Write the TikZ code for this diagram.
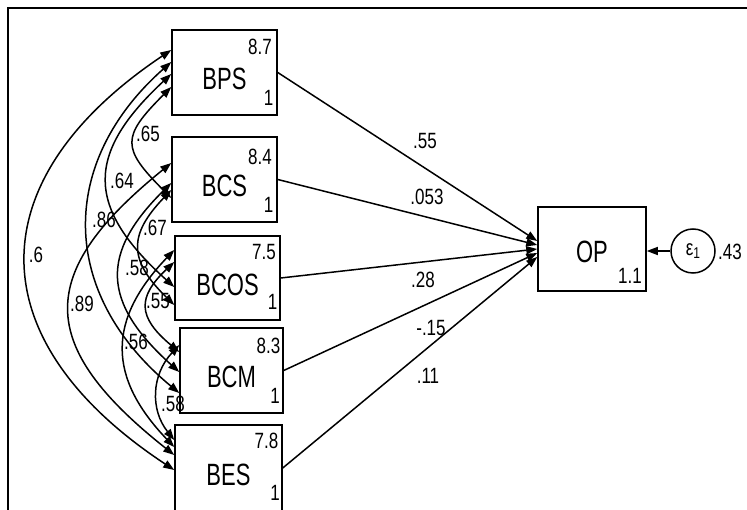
\documentclass[tikz,border=0pt]{standalone}
\usepackage{fontspec}
\setmainfont{Liberation Sans}
\usepackage{graphicx}
\usetikzlibrary{arrows.meta,calc}
\newcommand{\tallname}[1]{\scalebox{1}[1.4]{#1}}
\newcommand{\tallnum}[1]{\scalebox{1}[1.3]{#1}}
\tikzset{
  obsv/.style={draw,line width=1.5pt,inner sep=0pt,font=\fontsize{22}{22}\selectfont,text height=35pt,text depth=0pt},
  num/.style={inner sep=0pt,font=\fontsize{17}{17}\selectfont},
  effect/.style={line width=1.5pt,-{Triangle[length=11pt,width=8pt]}},
  cov/.style={line width=1.5pt,{Triangle[length=11pt,width=8pt]}-{Triangle[length=11pt,width=8pt]}},
}
\begin{document}
\begin{tikzpicture}[x=1pt,y=-1pt]
\useasboundingbox (0,0) rectangle (747,510);
\draw[line width=2pt] (8,514) -- (8,8) -- (750,8);
\node[obsv,minimum width=105pt,minimum height=85pt] (bps) at (224.5,72.5) {\tallname{BPS}};
\node[obsv,minimum width=105pt,minimum height=85pt] (bcs) at (224.5,179.5) {\tallname{BCS}};
\node[obsv,minimum width=105pt,minimum height=84pt] (bcos) at (227.5,278) {\tallname{BCOS}};
\node[obsv,minimum width=103pt,minimum height=85pt] (bcm) at (231.5,370.5) {\tallname{BCM}};
\node[obsv,minimum width=107pt,minimum height=86pt] (bes) at (228.5,468) {\tallname{BES}};
\node[obsv,minimum width=108pt,minimum height=84pt,text height=28pt] (op) at (592,249) {\tallname{OP}};
\node[draw,circle,line width=1.5pt,minimum size=44pt,inner sep=0pt,font=\fontsize{17}{17}\selectfont] (e1) at (693,251) {\tallnum{ε\raisebox{-2pt}{\fontsize{12}{12}\selectfont 1}}};
\node[num] (bpsmu) at (260,47) {\tallnum{8.7}};
\node[num] (bpsvar) at (268.5,98) {\tallnum{1}};
\node[num] (bcsmu) at (260,157) {\tallnum{8.4}};
\node[num] (bcsvar) at (268.5,205) {\tallnum{1}};
\node[num] (bcosmu) at (264,252) {\tallnum{7.5}};
\node[num] (bcosvar) at (272.5,302) {\tallnum{1}};
\node[num] (bcmmu) at (268.5,346) {\tallnum{8.3}};
\node[num] (bcmvar) at (275,396) {\tallnum{1}};
\node[num] (besmu) at (266.5,441) {\tallnum{7.8}};
\node[num] (besvar) at (275,493) {\tallnum{1}};
\node[num] (opvar) at (630,276) {\tallnum{1.1}};
\node[num] (e1var) at (730,252) {\tallnum{.43}};
\draw[effect] (bps.east) -- ($(op.west)+(0,-8)$);
\draw[effect] (bcs.east) -- ($(op.west)+(0,-4)$);
\draw[effect] (bcos.east) -- ($(op.west)+(0,0)$);
\draw[effect] (bcm.east) -- ($(op.west)+(0,4)$);
\draw[effect] (bes.east) -- ($(op.west)+(0,8)$);
\draw[effect] (e1.west) -- (e1.west -| op.east);
\node[num] (b1) at (425,141) {\tallnum{.55}};
\node[num] (b2) at (427,197) {\tallnum{.053}};
\node[num] (b3) at (423,280) {\tallnum{.28}};
\node[num] (b4) at (431,328) {\tallnum{-.15}};
\node[num] (b5) at (428,376) {\tallnum{.11}};
\draw[cov] ($(bps.west)+(0,14.5)$) .. controls +(-50,50) and +(-50,-50) .. ($(bcs.west)+(0,18.5)$);
\draw[cov] ($(bps.west)+(0,1.5)$) .. controls +(-86,80) and +(-89,-80) .. ($(bcos.west)+(0,9)$);
\draw[cov] ($(bps.west)+(0,-10.5)$) .. controls +(-113,100) and +(-121,-100) .. ($(bcm.west)+(0,22.5)$);
\draw[cov] ($(bps.west)+(0,-22.5)$) .. controls +(-194,130) and +(-197,-130) .. ($(bes.west)+(0,2)$);
\draw[cov] ($(bcs.west)+(0,10.5)$) .. controls +(-43,45) and +(-46,-45) .. ($(bcos.west)+(0,27)$);
\draw[cov] ($(bcs.west)+(0,3.5)$) .. controls +(-71,70) and +(-78,-70) .. ($(bcm.west)+(0,1.5)$);
\draw[cov] ($(bcs.west)+(0,-16.5)$) .. controls +(-136,110) and +(-139,-110) .. ($(bes.west)+(0,-13)$);
\draw[cov] ($(bcos.west)+(0,-16)$) .. controls +(-37,35) and +(-42,-35) .. ($(bcm.west)+(0,-18.5)$);
\draw[cov] ($(bcos.west)+(0,-28)$) .. controls +(-67,70) and +(-67,-70) .. ($(bes.west)+(0,-21)$);
\draw[cov] ($(bcm.west)+(0,-25.5)$) .. controls +(-28,30) and +(-24,-30) .. ($(bes.west)+(0,-28)$);
\node[num] (c1) at (148,134) {\tallnum{.65}};
\node[num] (c2) at (122,181) {\tallnum{.64}};
\node[num] (c3) at (104,220) {\tallnum{.86}};
\node[num] (c4) at (36,255) {\tallnum{.6}};
\node[num] (c5) at (155,228) {\tallnum{.67}};
\node[num] (c6) at (137,268) {\tallnum{.58}};
\node[num] (c7) at (82,304) {\tallnum{.89}};
\node[num] (c8) at (158,301) {\tallnum{.55}};
\node[num] (c9) at (136,342) {\tallnum{.56}};
\node[num] (c10) at (173,404) {\tallnum{.58}};
\end{tikzpicture}
\end{document}
